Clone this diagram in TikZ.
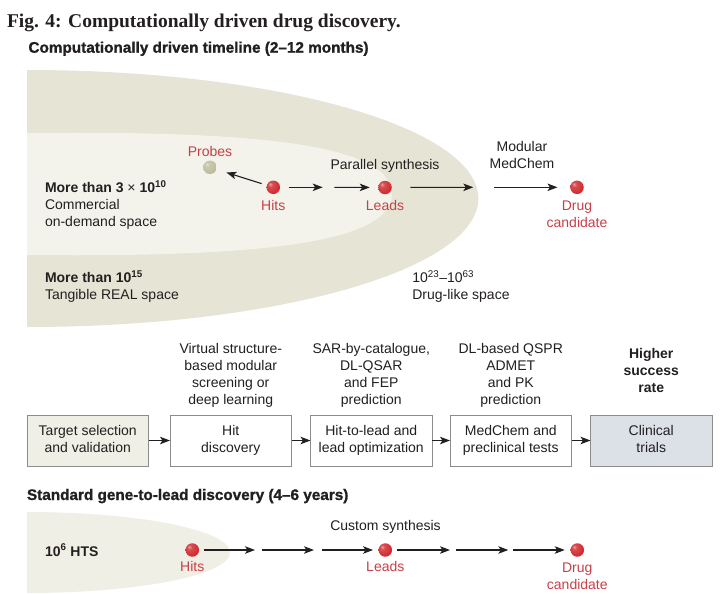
\documentclass[tikz,border=0pt]{standalone}
\usepackage{fontspec}
\setmainfont{Liberation Sans}
\newfontfamily\titlefont{Liberation Serif}
\newfontfamily\heavyfont[FakeBold=1.2]{Liberation Sans Bold}
\usetikzlibrary{arrows.meta,shadings}
\definecolor{outerc}{RGB}{229,228,213}
\definecolor{innerc}{RGB}{243,242,235}
\definecolor{htsc}{RGB}{240,239,230}
\definecolor{box1c}{RGB}{240,239,229}
\definecolor{box5c}{RGB}{220,224,231}
\definecolor{boxc}{RGB}{140,140,140}
\definecolor{txt}{RGB}{35,31,32}
\definecolor{redt}{RGB}{200,64,72}
\definecolor{ballred}{RGB}{210,45,50}
\definecolor{probec}{RGB}{190,190,158}
\pgfdeclareradialshading{redball}{\pgfpoint{-12bp}{12bp}}{color(0bp)=(white!55!ballred); color(9bp)=(ballred!85!white); color(28bp)=(ballred); color(50bp)=(ballred!72!black); color(70bp)=(ballred!65!black)}
\pgfdeclareradialshading{greyball}{\pgfpoint{-12bp}{12bp}}{color(0bp)=(white!55!probec); color(9bp)=(probec!85!white); color(28bp)=(probec); color(50bp)=(probec!75!black); color(70bp)=(probec!65!black)}
\newcommand\mlines[2]{\begin{tabular}[t]{@{}#1@{}}#2\end{tabular}}
\begin{document}
\begin{tikzpicture}[x=1pt,y=-1pt,
  every node/.style={inner sep=0pt, outer sep=0pt, text=txt, font=\fontsize{14}{17}\selectfont},
  lbl/.style={anchor=base},
  lblw/.style={anchor=base west},
  redlbl/.style={anchor=base, text=redt},
  head/.style={anchor=base west, font=\heavyfont\fontsize{15.3}{18}\selectfont},
  ball/.style={circle, minimum size=13.5pt, shading=redball},
  pball/.style={circle, minimum size=13.5pt, shading=greyball},
  stage/.style={draw=boxc, line width=0.8pt, minimum width=121.5pt, minimum height=51pt, fill=white},
  arr/.style={draw=txt, line width=1.1pt, -{Stealth[length=10pt,width=7.5pt,inset=2.5pt]}},
]
\useasboundingbox (0,0) rectangle (720,594);
\fill[white] (0,0) rectangle (720,594);

% titles
\node[anchor=base west, font=\titlefont\fontsize{19.5}{22}\selectfont\bfseries] (title) at (7,27.3) {Fig. 4: Computationally driven drug discovery.};
\node[head] (sub1) at (28.5,52.7) {Computationally driven timeline (2–12 months)};
\node[head] (sub2) at (27,500) {Standard gene-to-lead discovery (4–6 years)};

% chemical spaces
\begin{scope}
\clip (27,60) rectangle (720,340);
\fill[outerc] (27,198.5) ellipse [x radius=451.3pt, y radius=128.5pt];
\end{scope}
\fill[innerc] (27,133) .. controls (230,131) and (392,140) .. (392,194)
  .. controls (392,248) and (230,257) .. (27,255) -- cycle;
\begin{scope}
\clip (27,505) rectangle (720,594);
\fill[htsc] (27,552.5) ellipse [x radius=203pt, y radius=40.5pt];
\end{scope}

% texts in spaces
\node[lblw] (comm) at (45,192.7) {\mlines{l}{\textbf{More than 3 {\mdseries ×} 10\textsuperscript{10}}\\Commercial\\on-demand space}};
\node[lblw] (real) at (45,282.7) {\mlines{l}{\textbf{More than 10\textsuperscript{15}}\\Tangible REAL space}};
\node[lblw] (druglike) at (412.3,282.7) {\mlines{l}{10\textsuperscript{23}–10\textsuperscript{63}\\Drug-like space}};

% top compounds
\node[pball] (probes) at (210,167.3) {};
\node[redlbl] (probesl) at (210,156) {Probes};
\node[ball] (hits) at (273.3,187.3) {};
\node[redlbl] (hitsl) at (273.3,210) {Hits};
\node[ball] (leads) at (385,187.5) {};
\node[redlbl] (leadsl) at (385,210) {Leads};
\node[ball] (drug) at (577,187.3) {};
\node[redlbl] (drugl) at (577,210) {\mlines{c}{Drug\\candidate}};
\node[lbl] (parsyn) at (385,169) {Parallel synthesis};
\node[lbl] (modmed) at (522,151.7) {\mlines{c}{Modular\\MedChem}};

\coordinate (t1) at (322.7,187.3);
\coordinate (t2) at (334.3,187.3);
\coordinate (t3) at (473.3,187.3);
\coordinate (t4) at (494,187.3);
\draw[arr, shorten <=5.5pt, shorten >=10.5pt] (hits) -- (probes);
\draw[arr, shorten <=8.5pt] (hits) -- (t1);
\draw[arr, shorten >=8.5pt] (t2) -- (leads);
\draw[arr, shorten <=18.5pt] (leads) -- (t3);
\draw[arr, shorten >=12.8pt] (t4) -- (drug);

% stage descriptions
\node[lbl] (d2) at (230.75,353) {\mlines{c}{Virtual structure-\\based modular\\screening or\\deep learning}};
\node[lbl] (d3) at (371.25,353) {\mlines{c}{SAR-by-catalogue,\\DL-QSAR\\and FEP\\prediction}};
\node[lbl] (d4) at (510.75,353) {\mlines{c}{DL-based QSPR\\ADMET\\and PK\\prediction}};
\node[lbl, font=\fontsize{14}{17}\selectfont\bfseries] (d5) at (651.25,358) {\mlines{c}{Higher\\success\\rate}};

% stages
\node[stage, fill=box1c] (s1) at (87.75,440.5) {\mlines{c}{Target selection\\and validation}};
\node[stage] (s2) at (230.75,440.5) {\mlines{c}{Hit\\discovery}};
\node[stage] (s3) at (371.25,440.5) {\mlines{c}{Hit-to-lead and\\lead optimization}};
\node[stage] (s4) at (510.75,440.5) {\mlines{c}{MedChem and\\preclinical tests}};
\node[stage, fill=box5c] (s5) at (651.25,440.5) {\mlines{c}{Clinical\\trials}};
\draw[arr] (s1) -- (s2);
\draw[arr] (s2) -- (s3);
\draw[arr] (s3) -- (s4);
\draw[arr] (s4) -- (s5);

% standard pipeline
\node[lblw, font=\fontsize{14}{17}\selectfont\bfseries] (hts) at (45,556) {10\textsuperscript{6} HTS};
\node[ball] (hitsb) at (192.3,550) {};
\node[redlbl] (hitsbl) at (192.3,571.7) {Hits};
\node[ball] (leadsb) at (385.3,550) {};
\node[redlbl] (leadsbl) at (385.3,571.7) {Leads};
\node[ball] (drugb) at (577.3,550) {};
\node[redlbl] (drugbl) at (577.3,572.5) {\mlines{c}{Drug\\candidate}};
\node[lbl] (custsyn) at (385.5,530.7) {Custom synthesis};

\coordinate (b1) at (255,550);
\coordinate (b2) at (261.7,550);
\coordinate (b3) at (314,550);
\coordinate (b4) at (321.7,550);
\coordinate (b5) at (450,550);
\coordinate (b6) at (456,550);
\coordinate (b7) at (508.3,550);
\coordinate (b8) at (513.3,550);
\draw[arr, shorten <=4.5pt] (hitsb) -- (b1);
\draw[arr] (b2) -- (b3);
\draw[arr, shorten >=5.5pt] (b4) -- (leadsb);
\draw[arr, shorten <=5pt] (leadsb) -- (b5);
\draw[arr] (b6) -- (b7);
\draw[arr, shorten >=5.8pt] (b8) -- (drugb);
\end{tikzpicture}
\end{document}
